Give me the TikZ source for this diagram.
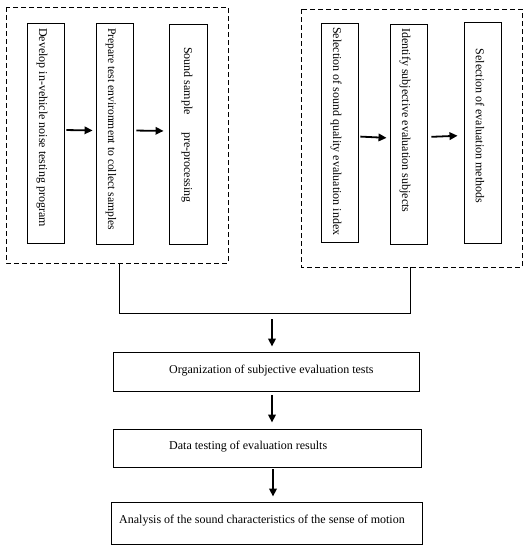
\documentclass[tikz,border=0pt]{standalone}
\usepackage{fontspec}
\setmainfont{Liberation Serif}
\usetikzlibrary{arrows.meta,calc}
\begin{document}
\begin{tikzpicture}[x=1pt,y=-1pt,
  every node/.style={font=\fontsize{12}{14}\selectfont, inner sep=0pt},
  dbox/.style={draw, dash pattern=on 5pt off 3pt, line width=0.9pt},
  vbox/.style={draw, line width=0.9pt},
  hbox/.style={draw, line width=0.9pt},
  vtext/.style={rotate=-90, anchor=west},
  arr/.style={-{Triangle[length=8pt,width=7.5pt]}, line width=1.8pt},
  conn/.style={line width=0.8pt}]
\useasboundingbox (0,0) rectangle (528,550);
% dashed group boxes
\path[dbox] (6,7) rectangle (228,263);
\coordinate (Ls) at (119,263);
\path[dbox] (301,9) rectangle (522,267);
\coordinate (Rs) at (410,267);
% left vertical boxes
\node[vbox, minimum width=37pt, minimum height=220pt] (b1) at (45.5,133) {};
\node[vbox, minimum width=37pt, minimum height=221pt] (b2) at (114.5,133.5) {};
\node[vbox, minimum width=38pt, minimum height=220pt] (b3) at (188,134) {};
\node[vtext] (t1) at (42,28) {Develop in-vehicle noise testing program};
\node[vtext, font=\fontsize{11.6}{14}\selectfont] (t2) at (111,28) {Prepare test environment to collect samples};
\node[rotate=-90] (t3) at (187,125) {Sound sample\hspace{1.2em} pre-processing};
\draw[arr, shorten <=2pt, shorten >=3pt] ($(b1.east)+(0,-3)$) -- ($(b2.west)+(0,-3)$);
\draw[arr, shorten <=3pt, shorten >=5pt] ($(b2.east)+(0,-3)$) -- ($(b3.west)+(0,-3)$);
% right vertical boxes
\node[vbox, minimum width=37pt, minimum height=219pt] (b4) at (339.5,132.5) {};
\node[vbox, minimum width=37pt, minimum height=220pt] (b5) at (408.5,134) {};
\node[vbox, minimum width=37pt, minimum height=221pt] (b6) at (482.5,132.5) {};
\node[vtext] (t4) at (336,27) {Selection of sound quality evaluation index};
\node[vtext] (t5) at (405,28) {Identify subjective evaluation subjects};
\node[rotate=-90] (t6) at (480,126) {Selection of evaluation methods};
\draw[arr, shorten <=2pt, shorten >=3pt] ($(b4.east)+(0,4)$) -- ($(b5.west)+(0,4)$);
\draw[arr, shorten <=4pt, shorten >=6pt] ($(b5.east)+(0,3)$) -- ($(b6.west)+(0,3)$);
% join bracket
\coordinate (bar) at (272,313);
\draw[conn] (Ls) -- (119,313) -- (410,313) -- (Rs);
% bottom boxes
\node[hbox, minimum width=306pt, minimum height=39pt] (o) at (266,371.5) {};
\node[anchor=west] (to) at (169,371) {Organization of subjective evaluation tests};
\node[hbox, minimum width=308pt, minimum height=38pt] (d) at (267,448) {};
\node[anchor=west] (td) at (169,447) {Data testing of evaluation results};
\node[hbox, minimum width=311pt, minimum height=42pt] (a) at (266.5,523) {};
\node[anchor=west] (ta) at (119,521) {Analysis of the sound characteristics of the sense of motion};
% vertical arrows
\coordinate (ax) at (272,0);
\draw[arr, shorten <=6pt, shorten >=5pt] (bar) -- (o.north -| ax);
\draw[arr, shorten <=4pt, shorten >=6pt] (o.south -| ax) -- (d.north -| ax);
\draw[arr, shorten <=2pt, shorten >=5pt] ($(d.south -| ax)+(1,0)$) -- ($(a.north -| ax)+(1,0)$);
\end{tikzpicture}
\end{document}
